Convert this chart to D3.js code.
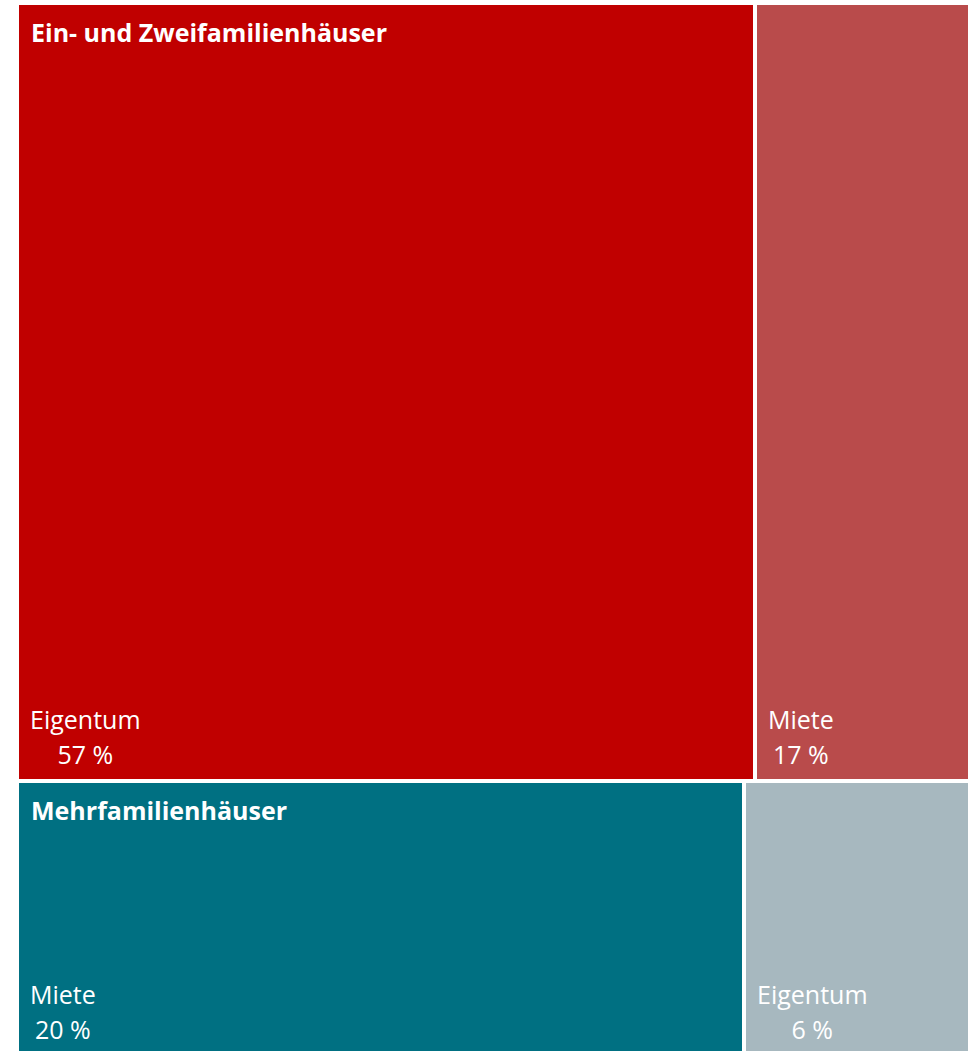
<!DOCTYPE html>
<html>
<head>
<meta charset="utf-8">
<script src="https://cdn.jsdelivr.net/npm/d3@7"></script>
<style>
  body { margin: 0; background: #fff; }
  svg { display: block; }
</style>
</head>
<body>
<div id="vis"></div>
<script>
// groups and their leaves (shares in %)
const groups = ["Ein- und Zweifamilienhäuser", "Mehrfamilienhäuser"];
const leafNames = [["Eigentum", "Miete"], ["Miete", "Eigentum"]];
const leafValues = [[57.2, 16.7], [19.9, 6.2]];
const leafLabels = [["57 %", "17 %"], ["20 %", "6 %"]];
const leafColors = [["#C00000", "#B94B4B"], ["#007082", "#A7B8BF"]];

const W = 971, H = 1051;
const offX = 19, offY = 5;

const svg = d3.select("#vis").append("svg")
  .attr("width", W)
  .attr("height", H);

// build hierarchy from the arrays
const data = {
  name: "root",
  children: groups.map((g, i) => ({
    name: g,
    children: leafNames[i].map((n, j) => ({
      name: n, value: leafValues[i][j], label: leafLabels[i][j], color: leafColors[i][j]
    }))
  }))
};

const root = d3.hierarchy(data).sum(d => d.value || 0);

// groups stacked vertically, leaves side by side
function tile(node, x0, y0, x1, y1) {
  if (node.depth === 0) d3.treemapSlice(node, x0, y0, x1, y1);
  else d3.treemapDice(node, x0, y0, x1, y1);
}

d3.treemap()
  .tile(tile)
  .size([949, 1049])
  .paddingInner(4)
  .round(true)(root);

const g = svg.append("g").attr("transform", `translate(${offX},${offY})`);

const FONT = "'Open Sans', sans-serif";

// leaves
const leaf = g.selectAll("g.leaf")
  .data(root.leaves())
  .join("g")
  .attr("class", "leaf");

leaf.append("rect")
  .attr("x", d => d.x0)
  .attr("y", d => d.y0)
  .attr("width", d => d.x1 - d.x0)
  .attr("height", d => d.y1 - d.y0)
  .attr("fill", d => d.data.color);

const nameText = leaf.append("text")
  .attr("x", d => d.x0 + 11)
  .attr("y", d => d.y1 - 50)
  .attr("fill", "#fff")
  .style("font-family", FONT)
  .style("font-size", "25px")
  .text(d => d.data.name);

// value centered under the name
nameText.each(function(d) {
  d.nameW = this.getComputedTextLength();
});

leaf.append("text")
  .attr("x", d => d.x0 + 11 + d.nameW / 2)
  .attr("y", d => d.y1 - 15)
  .attr("text-anchor", "middle")
  .attr("fill", "#fff")
  .style("font-family", FONT)
  .style("font-size", "25px")
  .text(d => d.data.label);

// group titles
g.selectAll("text.group")
  .data(root.children)
  .join("text")
  .attr("class", "group")
  .attr("x", d => d.x0 + 12)
  .attr("y", d => d.y0 + 37)
  .attr("fill", "#fff")
  .style("font-family", FONT)
  .style("font-weight", "bold")
  .style("font-size", "25px")
  .text(d => d.data.name);
</script>
</body>
</html>
